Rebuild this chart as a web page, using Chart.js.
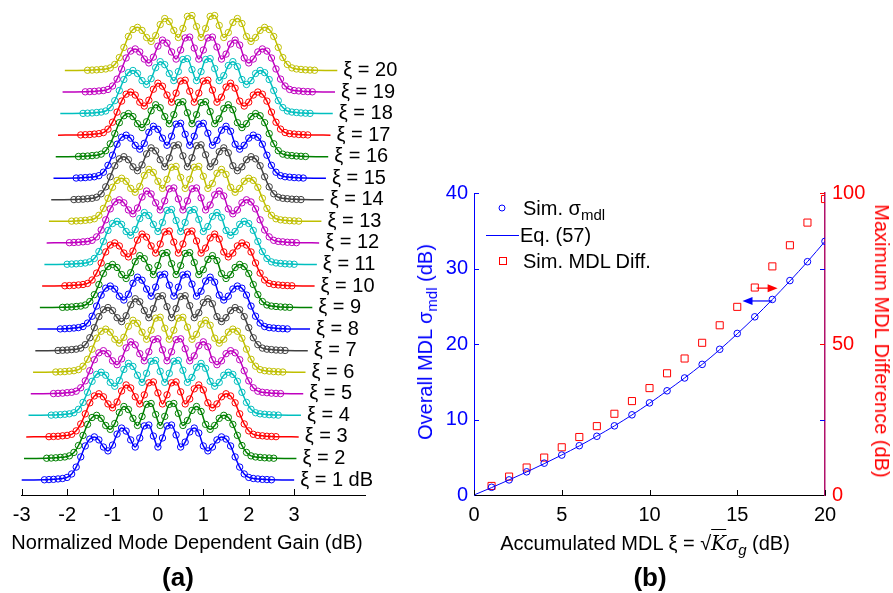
<!DOCTYPE html>
<html lang="en">
<head>
<meta charset="UTF-8">
<title>MDG waterfall and accumulated MDL</title>
<script src="https://cdn.jsdelivr.net/npm/chart.js"></script>
<style>
  body { margin: 0; background: #fff; font-family: "Liberation Sans", Arial, sans-serif; }
  #page { position: relative; width: 893px; height: 593px; overflow: hidden; }
  canvas { position: absolute; top: 0; }
  #chartA { left: 0; }
  #chartB { left: 420px; }
  .txt { position: absolute; font-size: 20px; white-space: nowrap; line-height: 1; color: #000; }
  .mid { transform: translate(-50%, -50%); }
  .panel { font-size: 26px; font-weight: bold; }
  .blue { color: #0000ff; }
  .red { color: #ff0000; }
  .rotL { transform: translate(-50%, -50%) rotate(-90deg); }
  .rotR { transform: translate(-50%, -50%) rotate(90deg); }
  sub { font-size: 15px; vertical-align: -5px; line-height: 0; }
  .kk { font-family: "DejaVu Serif", serif; font-style: italic; border-top: 1px solid #000; padding-top: 1px; }
  .vy { transform: translateY(-50%); }
</style>
</head>
<body>
<div id="page">
  <canvas id="chartA" width="420" height="593"></canvas>
  <canvas id="chartB" width="473" height="593"></canvas>

  <div class="txt mid" style="left:187px; top:542px;">Normalized Mode Dependent Gain (dB)</div>
  <div class="txt mid panel" style="left:178px; top:577px;">(a)</div>

  <div class="txt mid" style="left:645px; top:543px;">Accumulated MDL &xi; = &radic;<span class="kk">K</span><i>&sigma;<sub>g</sub></i> (dB)</div>
  <div class="txt mid panel" style="left:650px; top:577px;">(b)</div>
  <div class="txt rotL blue" style="left:425px; top:342px;">Overall MDL &sigma;<sub>mdl</sub> (dB)</div>
  <div class="txt rotR red" style="left:882px; top:341px;">Maximum MDL Difference (dB)</div>

  <div class="txt vy" style="left:523px; top:208px;">Sim. &sigma;<sub>mdl</sub></div>
  <div class="txt vy" style="left:520px; top:235px;">Eq. (57)</div>
  <div class="txt vy" style="left:523px; top:261px;">Sim. MDL Diff.</div>
</div>

<script>
  // ---- panel (a): normalized MDG distributions, one per accumulated MDL value
  const gainGrid = [-2.5, -2.4, -2.3, -2.2, -2.1, -2.0, -1.9, -1.8, -1.7, -1.6, -1.5, -1.4, -1.3, -1.2, -1.1, -1.0, -0.9,
    -0.8, -0.7, -0.6, -0.5, -0.4, -0.3, -0.2, -0.1, 0.0, 0.1, 0.2, 0.3, 0.4, 0.5, 0.6, 0.7, 0.8, 0.9, 1.0, 1.1, 1.2, 1.3,
    1.4, 1.5, 1.6, 1.7, 1.8, 1.9, 2.0, 2.1, 2.2, 2.3, 2.4, 2.5];
  const gainDensity = [0.01, 0.02, 0.03, 0.05, 0.07, 0.12, 0.28, 0.60, 1.07, 1.58, 1.90, 2.00, 1.86, 1.53, 1.35, 1.62, 2.13,
    2.41, 2.27, 1.86, 1.53, 1.95, 2.51, 2.55, 2.04, 1.53, 1.95, 2.51, 2.55, 2.09, 1.53, 1.76, 2.23, 2.41, 2.18, 1.58, 1.35,
    1.53, 1.86, 2.00, 1.90, 1.58, 1.07, 0.60, 0.28, 0.12, 0.07, 0.05, 0.03, 0.02, 0.01];
  const xiValues = [1, 2, 3, 4, 5, 6, 7, 8, 9, 10, 11, 12, 13, 14, 15, 16, 17, 18, 19, 20];
  const gainTicks = [-3, -2, -1, 0, 1, 2, 3];
  const curveColors = ['#0000ff', '#008000', '#ff0000', '#00bfbf', '#bf00bf', '#bfbf00', '#404040'];
  const xSkew = 0.05; // waterfall: each curve drawn a bit to the right

  // ---- panel (b): overall MDL vs accumulated MDL
  const simXi = [1, 2, 3, 4, 5, 6, 7, 8, 9, 10, 11, 12, 13, 14, 15, 16, 17, 18, 19, 20];
  const simSigma = [1.02, 2.0, 3.07, 4.22, 5.29, 6.53, 7.78, 9.16, 10.62, 12.2, 13.8, 15.5, 17.3, 19.3, 21.4, 23.6,
    25.9, 28.4, 30.9, 33.6];
  const eqXi = [0, 1, 2, 3, 4, 5, 6, 7, 8, 9, 10, 11, 12, 13, 14, 15, 16, 17, 18, 19, 20];
  const eqSigma = [0, 0.98, 2.0, 3.05, 4.15, 5.3, 6.5, 7.8, 9.15, 10.6, 12.15, 13.8, 15.5, 17.3, 19.25, 21.35, 23.55,
    25.9, 28.35, 30.9, 33.6];
  const simMaxDiff = [3.0, 6.1, 9.1, 12.4, 15.8, 19.2, 22.8, 26.9, 31.1, 35.4, 40.3, 45.2, 50.4, 56.2, 62.3, 68.7,
    75.7, 82.7, 90.2, 98.0];

  const fontFamily = "'Liberation Sans', Arial, sans-serif";
  Chart.defaults.font.family = fontFamily;
  Chart.defaults.font.size = 20;
  Chart.defaults.color = '#000';

  function upTick(ctx, px, py, len) {
    ctx.beginPath();
    ctx.moveTo(px, py);
    ctx.lineTo(px, py - len);
    ctx.stroke();
  }

  function arrow(ctx, x0, x1, py, color) {
    const dir = x1 > x0 ? 1 : -1;
    ctx.strokeStyle = color;
    ctx.fillStyle = color;
    ctx.lineWidth = 1.2;
    ctx.beginPath();
    ctx.moveTo(x0, py);
    ctx.lineTo(x1 - dir * 6, py);
    ctx.stroke();
    ctx.beginPath();
    ctx.moveTo(x1, py);
    ctx.lineTo(x1 - dir * 10, py - 4);
    ctx.lineTo(x1 - dir * 10, py + 4);
    ctx.closePath();
    ctx.fill();
  }

  const waterfallSets = xiValues.map((xi, k) => {
    const dx = xSkew * k;
    const pts = [{ x: -3 + dx, y: k }]
      .concat(gainGrid.map((g, i) => ({ x: g + dx, y: gainDensity[i] + k })))
      .concat([{ x: 3 + dx, y: k }]);
    const color = curveColors[k % curveColors.length];
    return {
      label: 'ξ = ' + xi,
      data: pts,
      borderColor: color,
      borderWidth: 1.5,
      pointRadius: c => (c.index === 0 || c.index === pts.length - 1) ? 0 : 3.2,
      pointBorderWidth: 1,
      pointBorderColor: color,
      pointBackgroundColor: 'rgba(0,0,0,0)',
      cubicInterpolationMode: 'monotone',
      order: xiValues.length - k,
      clip: false
    };
  });

  const waterfallDecor = {
    id: 'waterfallDecor',
    afterDraw(chart) {
      const { ctx, scales: { x, y } } = chart;
      ctx.save();
      ctx.strokeStyle = '#000';
      ctx.lineWidth = 1;
      gainTicks.forEach(v => upTick(ctx, Math.round(x.getPixelForValue(v)) + 0.5, y.bottom, 6));
      ctx.fillStyle = '#000';
      ctx.font = '20px ' + fontFamily;
      ctx.textBaseline = 'middle';
      xiValues.forEach((xi, k) => {
        const px = x.getPixelForValue(3 + xSkew * k) + 6;
        const py = y.getPixelForValue(k);
        ctx.fillText('ξ = ' + xi + (k === 0 ? ' dB' : ''), px, py);
      });
      ctx.restore();
    }
  };

  new Chart(document.getElementById('chartA'), {
    type: 'line',
    data: { datasets: waterfallSets },
    options: {
      responsive: false,
      animation: false,
      layout: { padding: { left: 21.7, right: 55, top: 0, bottom: 0 } },
      plugins: { legend: { display: false }, tooltip: { enabled: false } },
      scales: {
        x: {
          type: 'linear',
          min: -3,
          max: 4.56,
          afterBuildTicks: s => { s.ticks = gainTicks.map(v => ({ value: v })); },
          afterFit: s => { s.height = 98; },
          grid: { display: false, drawTicks: false },
          border: { display: true, color: '#000', width: 1 },
          ticks: { padding: 8, maxRotation: 0, autoSkip: false }
        },
        y: { display: false, min: -0.696, max: 22.27 }
      }
    },
    plugins: [waterfallDecor]
  });

  const mdlDecor = {
    id: 'mdlDecor',
    afterDraw(chart) {
      const { ctx, chartArea: a, scales: { x, y, y2 } } = chart;
      ctx.save();
      ctx.lineWidth = 1;
      // inward ticks
      ctx.strokeStyle = '#000';
      [0, 5, 10, 15, 20].forEach(v => upTick(ctx, Math.round(x.getPixelForValue(v)) + 0.5, a.bottom, 5));
      ctx.strokeStyle = '#0000ff';
      [10, 20, 30, 40].forEach(v => {
        const py = Math.round(y.getPixelForValue(v)) + 0.5;
        ctx.beginPath(); ctx.moveTo(a.left, py); ctx.lineTo(a.left + 5, py); ctx.stroke();
        if (v < 40) { ctx.beginPath(); ctx.moveTo(a.right, py); ctx.lineTo(a.right - 5, py); ctx.stroke(); }
      });
      ctx.strokeStyle = '#ff0000';
      [50, 100].forEach(v => {
        const py = Math.round(y2.getPixelForValue(v)) + 0.5;
        ctx.beginPath(); ctx.moveTo(a.right, py); ctx.lineTo(a.right - 5, py); ctx.stroke();
      });
      // arrows pointing each series to its axis
      arrow(ctx, x.getPixelForValue(16.1), x.getPixelForValue(17.3), y2.getPixelForValue(68.5), '#ff0000');
      arrow(ctx, x.getPixelForValue(17.0), x.getPixelForValue(15.3), y.getPixelForValue(25.7), '#0000ff');
      // legend markers
      ctx.lineWidth = 1;
      ctx.strokeStyle = '#0000ff';
      ctx.beginPath(); ctx.arc(502 - 420, 208, 3, 0, Math.PI * 2); ctx.stroke();
      ctx.beginPath(); ctx.moveTo(486 - 420, 235.5); ctx.lineTo(519 - 420, 235.5); ctx.stroke();
      ctx.strokeStyle = '#ff0000';
      ctx.strokeRect(499.5 - 420, 257.5, 7, 7);
      ctx.restore();
    }
  };

  new Chart(document.getElementById('chartB'), {
    type: 'line',
    data: {
      datasets: [
        {
          label: 'Sim. σmdl',
          data: simXi.map((v, i) => ({ x: v, y: simSigma[i] })),
          showLine: false,
          pointStyle: 'circle',
          pointRadius: 3.3,
          pointBorderWidth: 1,
          pointBorderColor: '#0000ff',
          pointBackgroundColor: 'rgba(0,0,0,0)',
          yAxisID: 'y'
        },
        {
          label: 'Eq. (57)',
          data: eqXi.map((v, i) => ({ x: v, y: eqSigma[i] })),
          borderColor: '#0000ff',
          borderWidth: 1,
          pointRadius: 0,
          cubicInterpolationMode: 'monotone',
          yAxisID: 'y'
        },
        {
          label: 'Sim. MDL Diff.',
          data: simXi.map((v, i) => ({ x: v, y: simMaxDiff[i] })),
          showLine: false,
          pointStyle: 'rect',
          pointRadius: 5,
          pointBorderWidth: 1,
          pointBorderColor: '#ff0000',
          pointBackgroundColor: 'rgba(0,0,0,0)',
          yAxisID: 'y2'
        }
      ]
    },
    options: {
      responsive: false,
      animation: false,
      layout: { padding: { left: 0, right: 0, top: 193, bottom: 0 } },
      plugins: { legend: { display: false }, tooltip: { enabled: false } },
      scales: {
        x: {
          type: 'linear',
          min: 0,
          max: 20,
          afterFit: s => { s.height = 98; },
          grid: { display: false, drawTicks: false },
          border: { display: true, color: '#000', width: 1 },
          ticks: { stepSize: 5, padding: 8, maxRotation: 0 }
        },
        y: {
          position: 'left',
          min: 0,
          max: 40,
          afterFit: s => { s.width = 54; },
          grid: { display: false, drawTicks: false },
          border: { display: true, color: '#0000ff', width: 1 },
          ticks: { stepSize: 10, padding: 6, color: '#0000ff' }
        },
        y2: {
          position: 'right',
          min: 0,
          max: 100,
          afterFit: s => { s.width = 68; },
          grid: { display: false, drawTicks: false },
          border: { display: true, color: '#b0106a', width: 1.5 },
          ticks: { stepSize: 50, padding: 7, color: '#ff0000' }
        }
      }
    },
    plugins: [mdlDecor]
  });
</script>
</body>
</html>
